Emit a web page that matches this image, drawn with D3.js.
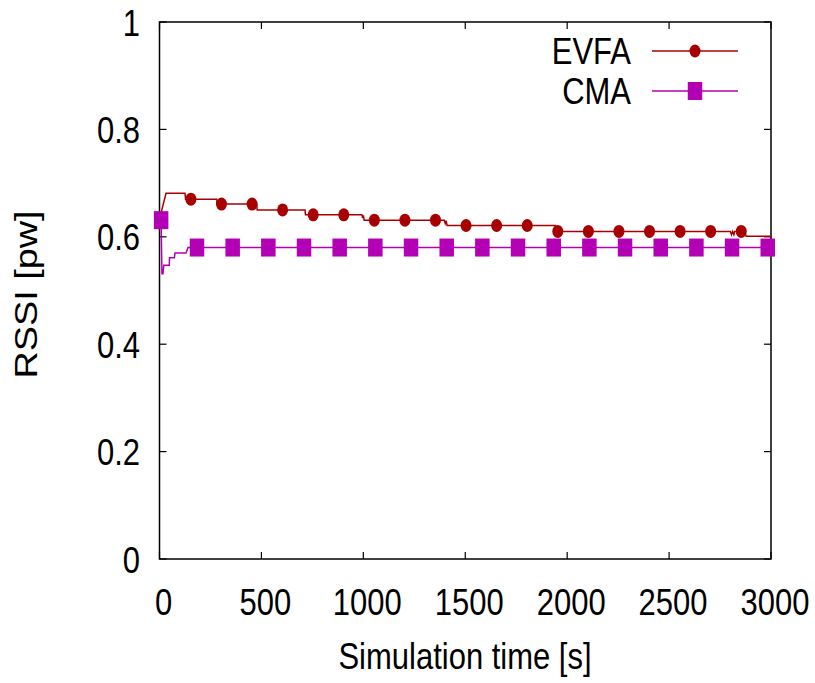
<!DOCTYPE html>
<html>
<head>
<meta charset="utf-8">
<script src="https://cdn.jsdelivr.net/npm/d3@7"></script>
<style>
  body { margin: 0; background: #fff; }
  text { font-family: "Liberation Sans", Arial, sans-serif; fill: #000; }
</style>
</head>
<body>
<svg width="815" height="683"></svg>
<script>
// step line: [time s, RSSI pw]
const evfaLine = [
  [8, 0.645], [32, 0.681], [125, 0.681], [128, 0.670], [281, 0.670], [283, 0.661],
  [477, 0.661], [479, 0.650], [714, 0.650], [716, 0.641], [993, 0.641], [997, 0.635],
  [1000, 0.640], [1004, 0.631], [1009, 0.631], [1397, 0.631], [1402, 0.625],
  [1406, 0.630], [1411, 0.621], [1941, 0.621], [1943, 0.610], [2801, 0.610],
  [2806, 0.604], [2812, 0.610], [2818, 0.604], [2822, 0.610], [2870, 0.610],
  [2878, 0.601], [3000, 0.601]
];
const evfaMarkT = [154, 304, 454, 604, 754, 904, 1054, 1204, 1354, 1504, 1654, 1804,
  1954, 2104, 2254, 2404, 2554, 2704, 2854];
const evfaMarkV = [0.670, 0.661, 0.661, 0.650, 0.641, 0.641, 0.631, 0.631, 0.631,
  0.621, 0.621, 0.621, 0.610, 0.610, 0.610, 0.610, 0.610, 0.610, 0.610];

const cmaLine = [
  [8, 0.631], [12, 0.531], [17, 0.531], [21, 0.547], [48, 0.547], [49, 0.561],
  [73, 0.561], [76, 0.570], [130, 0.570], [140, 0.580], [3000, 0.580]
];
const cmaMarkT = [8, 184, 359, 534, 709, 884, 1059, 1234, 1409, 1584, 1759, 1934, 2109,
  2284, 2459, 2634, 2809, 2984];
const cmaMarkV = [0.631, 0.580, 0.580, 0.580, 0.580, 0.580, 0.580, 0.580, 0.580, 0.580,
  0.580, 0.580, 0.580, 0.580, 0.580, 0.580, 0.580, 0.580];

const xTicks = [0, 500, 1000, 1500, 2000, 2500, 3000];
const yTicks = [0, 0.2, 0.4, 0.6, 0.8, 1];
const seriesNames = ["EVFA", "CMA"];
const colors = { EVFA: "#a80000", CMA: "#b400b4" };

const margin = { top: 22, right: 44, bottom: 124, left: 159.5 };
const width = 815, height = 683;
const sy = 1.22; // the picture is stretched vertically

const svg = d3.select("svg");

const x = d3.scaleLinear().domain([0, 3000]).range([margin.left, width - margin.right]);
const y = d3.scaleLinear().domain([0, 1]).range([height - margin.bottom, margin.top]);

// stretched text helper
function label(px, py, txt, anchor, rot) {
  const s = rot ? `scale(${sy},1)` : `scale(1,${sy})`;
  svg.append("text")
    .attr("transform", `translate(${px},${py}) rotate(${rot || 0}) ${s}`)
    .attr("text-anchor", anchor)
    .style("font-size", "31px")
    .text(txt);
}

// ticks, all four sides, pointing inward
const tk = 7;
const ticks = svg.append("g").attr("stroke", "#000").attr("stroke-width", 1.2);
xTicks.forEach(t => {
  ticks.append("line").attr("x1", x(t)).attr("x2", x(t)).attr("y1", y(0)).attr("y2", y(0) - tk);
  ticks.append("line").attr("x1", x(t)).attr("x2", x(t)).attr("y1", y(1)).attr("y2", y(1) + tk);
  label(x(t) + 4, 615, t, "middle");
});
yTicks.forEach(v => {
  ticks.append("line").attr("x1", x(0)).attr("x2", x(0) + tk).attr("y1", y(v)).attr("y2", y(v));
  ticks.append("line").attr("x1", x(3000)).attr("x2", x(3000) - tk).attr("y1", y(v)).attr("y2", y(v));
  label(140, y(v) + 13.5, v, "end");
});

// frame
svg.append("rect")
  .attr("x", x(0)).attr("y", y(1))
  .attr("width", x(3000) - x(0)).attr("height", y(0) - y(1))
  .attr("fill", "none").attr("stroke", "#000").attr("stroke-width", 1.5);

const line = d3.line().x(d => x(d[0])).y(d => y(d[1]));

// EVFA
svg.append("path").datum(evfaLine).attr("d", line)
  .attr("fill", "none").attr("stroke", colors.EVFA).attr("stroke-width", 1.5);
svg.append("g").selectAll("ellipse").data(evfaMarkT).enter().append("ellipse")
  .attr("cx", d => x(d)).attr("cy", (d, i) => y(evfaMarkV[i]))
  .attr("rx", 5.5).attr("ry", 6.5).attr("fill", colors.EVFA);

// CMA
svg.append("path").datum(cmaLine).attr("d", line)
  .attr("fill", "none").attr("stroke", colors.CMA).attr("stroke-width", 1.5);
svg.append("g").selectAll("rect").data(cmaMarkT).enter().append("rect")
  .attr("x", d => x(d) - 7.25).attr("y", (d, i) => y(cmaMarkV[i]) - 9)
  .attr("width", 14.5).attr("height", 18).attr("fill", colors.CMA);

// legend
seriesNames.forEach((name, i) => {
  const ly = 51 + i * 40;
  label(631, ly + 13, name, "end");
  svg.append("line").attr("x1", 652).attr("x2", 738).attr("y1", ly).attr("y2", ly)
    .attr("stroke", colors[name]).attr("stroke-width", 1.5);
  if (name === "EVFA") {
    svg.append("ellipse").attr("cx", 695).attr("cy", ly).attr("rx", 5.5).attr("ry", 6.5)
      .attr("fill", colors[name]);
  } else {
    svg.append("rect").attr("x", 695 - 7.25).attr("y", ly - 9).attr("width", 14.5).attr("height", 18)
      .attr("fill", colors[name]);
  }
});

// axis titles
label(465, 669, "Simulation time [s]", "middle");
label(37, 294.5, "RSSI [pw]", "middle", -90);
</script>
</body>
</html>
